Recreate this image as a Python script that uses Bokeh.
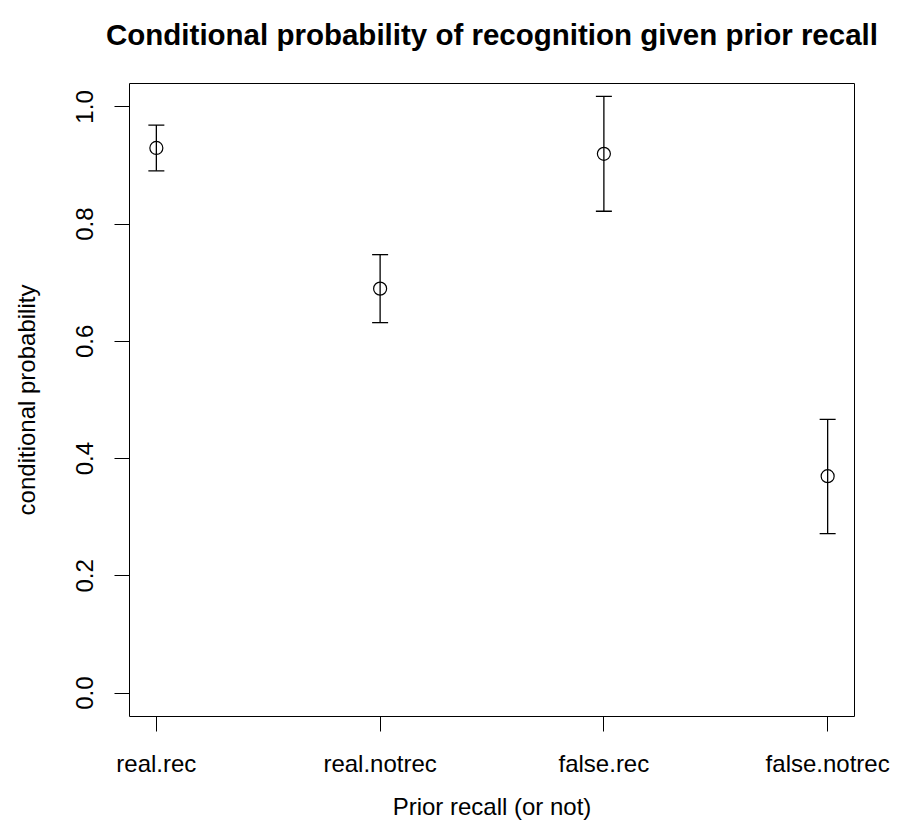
from bokeh.plotting import figure
from bokeh.models import (Range1d, FixedTicker, Whisker, ColumnDataSource, TeeHead,
                          PrintfTickFormatter, LinearAxis)
from bokeh.embed import file_html
from bokeh.resources import INLINE

# Conditional probability of recognition for each prior-recall group
categories = ["real.rec", "real.notrec", "false.rec", "false.notrec"]
prob = [0.93, 0.69, 0.92, 0.37]
lower = [0.891, 0.632, 0.822, 0.272]
upper = [0.969, 0.748, 1.018, 0.467]
y_ticks = [0.0, 0.2, 0.4, 0.6, 0.8, 1.0]
title_text = "Conditional probability of recognition given prior recall"

FONT = "Liberation Sans"

xpos = list(range(1, len(categories) + 1))
src = ColumnDataSource(dict(x=xpos, y=prob, lower=lower, upper=upper))

p = figure(frame_width=725, frame_height=633, title=None,
           min_border_left=129, min_border_right=45,
           min_border_top=83, min_border_bottom=123,
           output_backend="svg", toolbar_location=None,
           x_range=Range1d(0.88, 4.12), y_range=Range1d(-0.04, 1.04),
           background_fill_color="white", border_fill_color="white")

p.xgrid.visible = False
p.ygrid.visible = False
p.outline_line_color = "black"
p.outline_line_width = 1
p.outline_line_alpha = 1

# main title: a bare axis above the frame carries it, so its gap can be set exactly
title_axis = LinearAxis(ticker=FixedTicker(ticks=[]), axis_label=title_text,
                        axis_line_color=None, major_tick_line_color=None,
                        minor_tick_line_color=None, major_tick_out=0,
                        major_tick_in=0, major_label_standoff=0,
                        major_label_text_font_size="0px",
                        axis_label_standoff=33,
                        axis_label_text_font=FONT,
                        axis_label_text_font_size="29.5px",
                        axis_label_text_font_style="bold",
                        axis_label_text_color="black")
p.add_layout(title_axis, "above")

# error bars
tee = dict(size=16, line_color="black", line_width=1.3)
p.add_layout(Whisker(base="x", upper="upper", lower="lower", source=src,
                     line_color="black", line_width=1.3,
                     upper_head=TeeHead(**tee), lower_head=TeeHead(**tee)))

# point estimates as open circles
p.scatter("x", "y", source=src, marker="circle", size=13,
          fill_color=None, line_color="black", line_width=1.2)

# x axis
xa = p.below[0]
xa.ticker = FixedTicker(ticks=xpos)
xa.major_label_overrides = {x: c for x, c in zip(xpos, categories)}
xa.bounds = (1, 4)
xa.axis_label = "Prior recall (or not)"

# y axis
ya = p.left[0]
ya.ticker = FixedTicker(ticks=y_ticks)
ya.formatter = PrintfTickFormatter(format="%.1f")
ya.bounds = (0, 1)
ya.axis_label = "conditional probability"
ya.major_label_orientation = "vertical"

for ax in (xa, ya):
    ax.axis_line_color = "black"
    ax.axis_line_width = 1
    ax.major_tick_line_color = "black"
    ax.major_tick_line_width = 1
    ax.major_tick_out = 15
    ax.major_tick_in = 0
    ax.minor_tick_line_color = None
    ax.major_label_text_font = FONT
    ax.major_label_text_font_size = "24px"
    ax.major_label_text_color = "black"
    ax.axis_label_text_font = FONT
    ax.axis_label_text_font_size = "24px"
    ax.axis_label_text_font_style = "normal"
    ax.axis_label_text_color = "black"

xa.major_label_standoff = 18
xa.axis_label_standoff = 13
ya.major_label_standoff = 21
ya.axis_label_standoff = 34

open("out.html", "w").write(file_html(p, INLINE))
